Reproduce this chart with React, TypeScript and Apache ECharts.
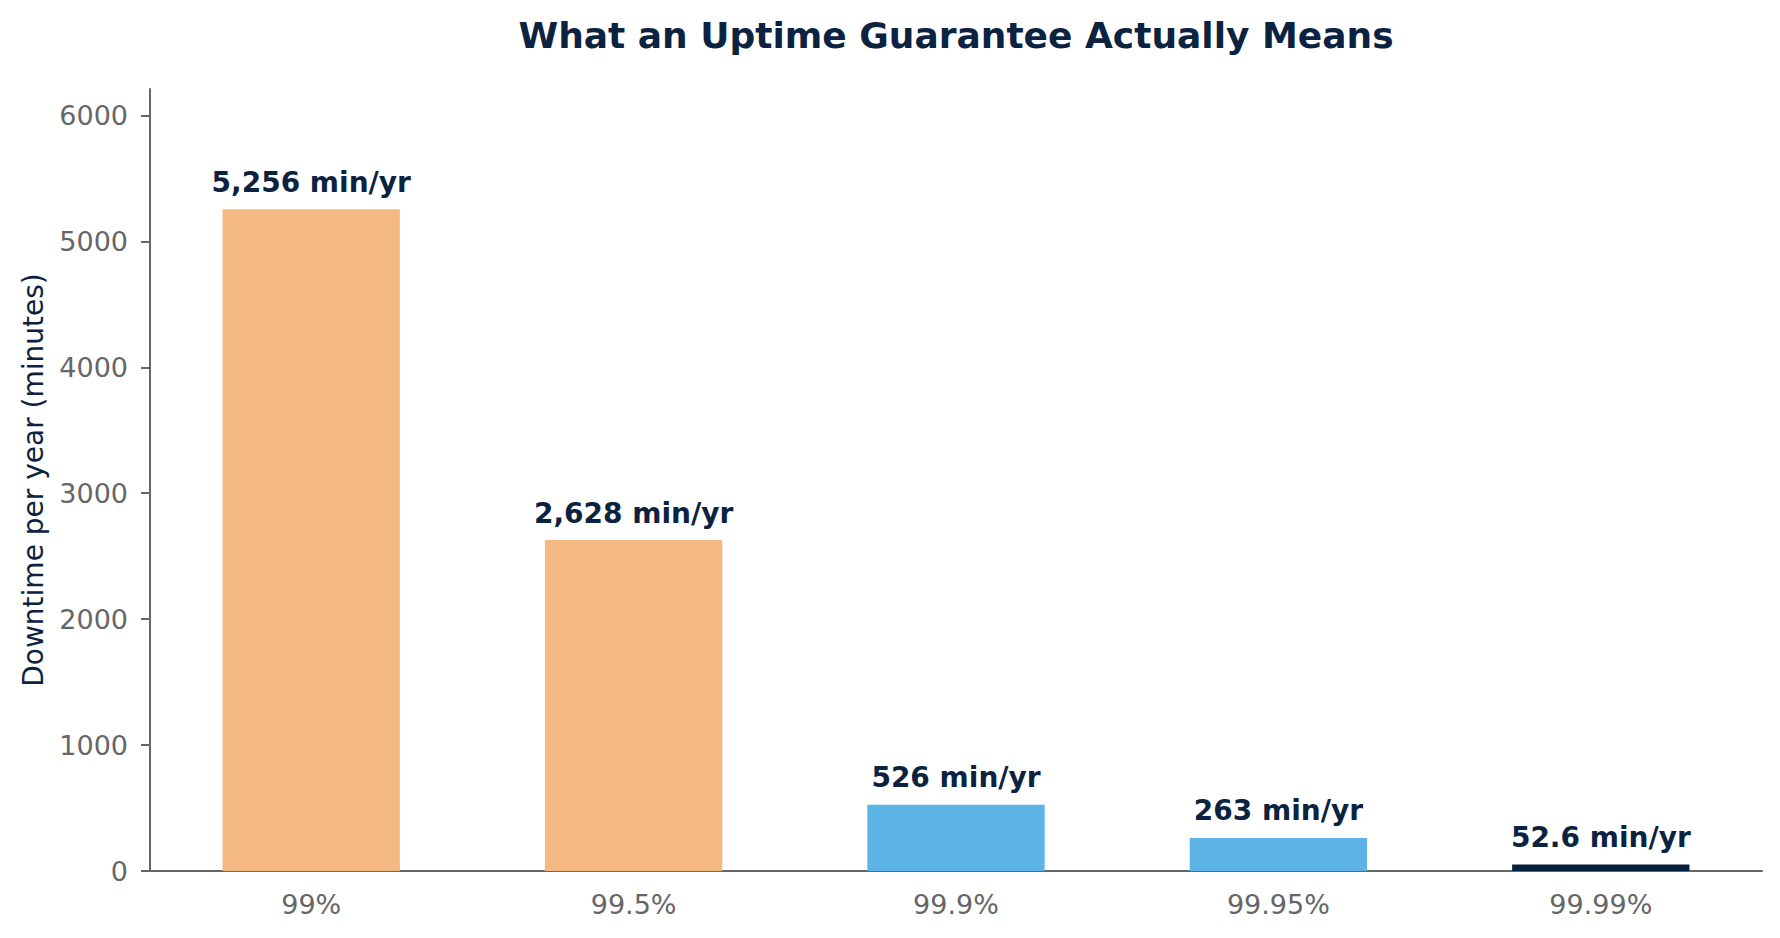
import { useEffect, useRef } from "react";
import * as echarts from "echarts";

// Uptime guarantee -> yearly downtime in minutes.
const CATEGORIES = ["99%", "99.5%", "99.9%", "99.95%", "99.99%"];
const DOWNTIME = [5256, 2628, 525.6, 262.8, 52.6];
const LABELS = ["5,256 min/yr", "2,628 min/yr", "526 min/yr", "263 min/yr", "52.6 min/yr"];
const BAR_COLORS = ["#F4B982", "#F4B982", "#5CB3E6", "#5CB3E6", "#04203F"];
const Y_TICKS = [0, 1000, 2000, 3000, 4000, 5000, 6000];
const Y_MAX = 6210;

const NAVY = "#0B2240";
const GREY = "#666666";
const FONT = "'DejaVu Sans', sans-serif";

export default function App() {
  const chartRef = useRef<HTMLDivElement>(null);

  useEffect(() => {
    if (!chartRef.current) return;
    const chart = echarts.init(chartRef.current, undefined, { renderer: "svg" });
    chart.setOption({
      animation: false,
      backgroundColor: "#ffffff",
      textStyle: { fontFamily: FONT },
      title: {
        text: "What an Uptime Guarantee Actually Means",
        left: 951,
        textAlign: "center",
        top: 12,
        textStyle: { fontSize: 36, fontWeight: "bold", color: NAVY, fontFamily: FONT },
      },
      grid: { left: 150, right: 18, top: 89, bottom: 67 },
      xAxis: {
        type: "category",
        data: CATEGORIES,
        axisLine: { lineStyle: { color: GREY, width: 2 } },
        axisTick: { alignWithLabel: true, length: 9, lineStyle: { color: GREY, width: 2 } },
        axisLabel: { color: GREY, fontSize: 27, margin: 20, fontFamily: FONT },
      },
      yAxis: {
        type: "value",
        min: 0,
        max: Y_MAX,
        name: "Downtime per year (minutes)",
        nameLocation: "middle",
        nameGap: 103,
        nameTextStyle: { color: NAVY, fontSize: 28, fontFamily: FONT },
        axisLine: { show: true, lineStyle: { color: GREY, width: 2 } },
        axisTick: { show: true, length: 9, customValues: Y_TICKS, lineStyle: { color: GREY, width: 2 } },
        axisLabel: {
          color: GREY,
          fontSize: 27,
          margin: 22,
          customValues: Y_TICKS,
          formatter: (v: number) => String(v),
          fontFamily: FONT,
        },
        splitLine: { show: false },
      },
      series: [
        {
          type: "bar",
          barWidth: "55%",
          data: DOWNTIME.map((v, i) => ({ value: v, itemStyle: { color: BAR_COLORS[i] } })),
          label: {
            show: true,
            position: "top",
            distance: 13,
            formatter: (p: any) => LABELS[p.dataIndex],
            color: NAVY,
            fontSize: 28,
            fontWeight: "bold",
            fontFamily: FONT,
          },
        },
      ],
    });
    return () => chart.dispose();
  }, []);

  return <div ref={chartRef} style={{ position: "fixed", left: 0, top: 0, width: 1780, height: 938 }} />;
}
